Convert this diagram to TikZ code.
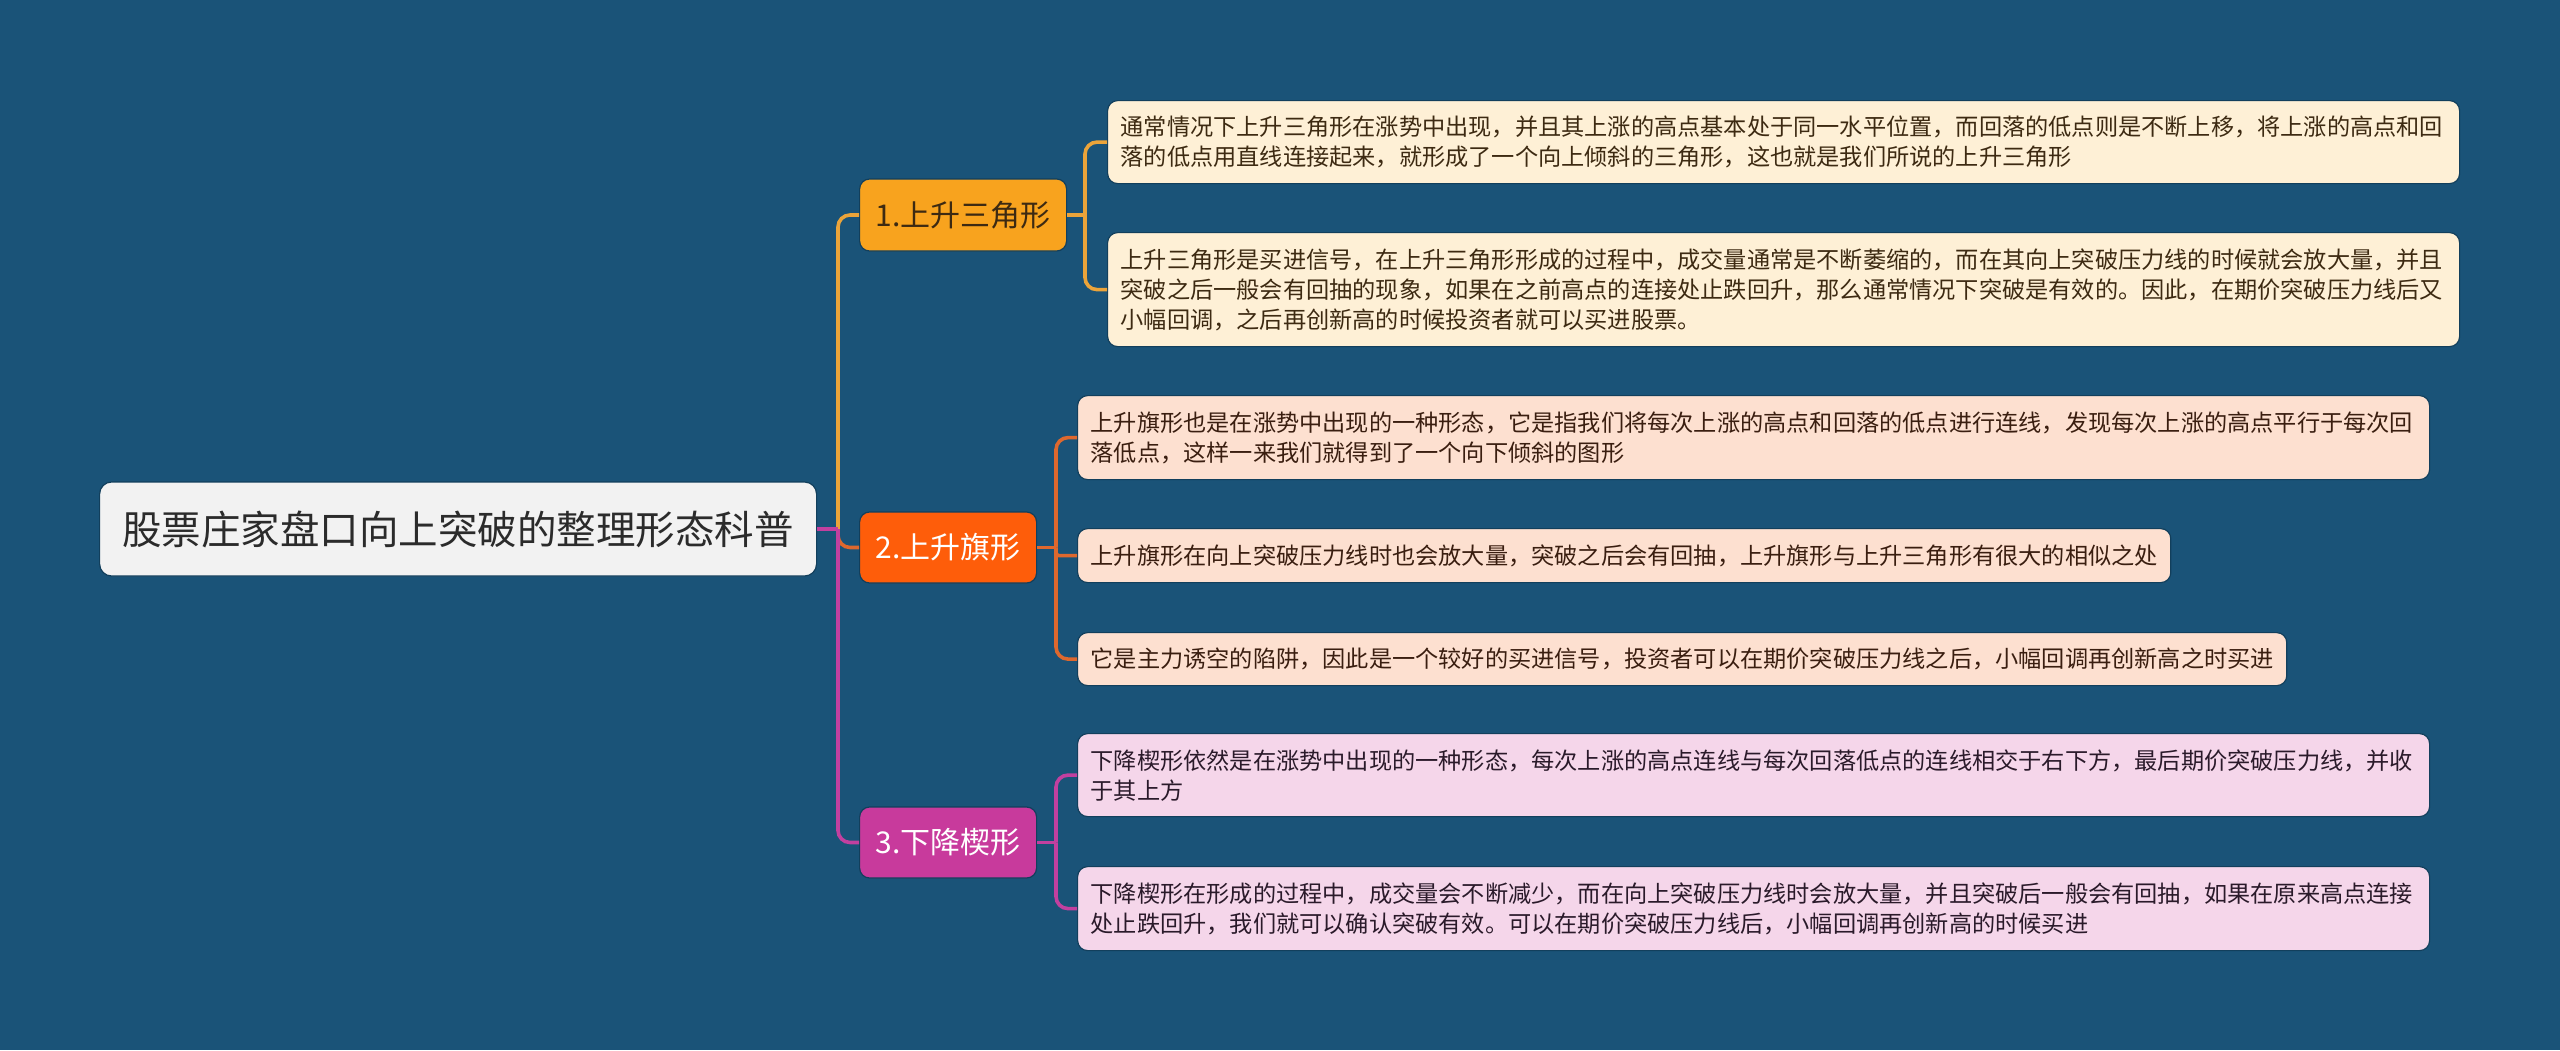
\documentclass[tikz,border=0pt]{standalone}
\usepackage{fontspec}
\newfontfamily\cjk{Noto Sans CJK SC}
\usetikzlibrary{calc}
\definecolor{bg}{HTML}{1A5378}
\definecolor{outl}{HTML}{123F5C}
\definecolor{rootfill}{HTML}{F2F2F2}
\definecolor{roottext}{HTML}{2B2B2B}
\definecolor{bfa}{HTML}{F8A31E}
\definecolor{bfb}{HTML}{FE5D0A}
\definecolor{bfc}{HTML}{C83A9C}
\definecolor{lna}{HTML}{EBA43A}
\definecolor{lnb}{HTML}{DE682E}
\definecolor{lnc}{HTML}{C2409F}
\definecolor{lfa}{HTML}{FEF0D6}
\definecolor{lfb}{HTML}{FDE0D0}
\definecolor{lfc}{HTML}{F5D6EA}
\definecolor{txa}{HTML}{3D2A12}
\definecolor{txb}{HTML}{3A1E10}
\definecolor{txc}{HTML}{2A1A2A}
\begin{document}
\begin{tikzpicture}[x=1pt,y=-1pt,
  box/.style={rounded corners=10pt, draw=outl, line width=1.2pt, inner ysep=0pt},
  rootbox/.style={box, rounded corners=12pt, fill=rootfill, text=roottext, anchor=west,
    minimum width=717pt, minimum height=94pt, inner xsep=0pt,
    font={\cjk\fontsize{39.5}{47}\selectfont}},
  branch/.style={box, anchor=west, minimum height=72pt, inner xsep=0pt,
    font={\cjk\fontsize{30}{36}\selectfont}},
  leaf/.style={box, anchor=north west, align=left, inner xsep=13pt,
    font={\cjk\fontsize{23.2}{30}\selectfont}},
  wide/.style={text width=1326pt},
  leafa/.style={leaf, fill=lfa, text=txa},
  leafb/.style={leaf, fill=lfb, text=txb},
  leafc/.style={leaf, fill=lfc, text=txc},
  conn/.style={line width=3.6pt, rounded corners=12pt},
  ca/.style={conn, draw=lna},
  cb/.style={conn, draw=lnb},
  cc/.style={conn, draw=lnc}
]
\useasboundingbox (0,0) rectangle (2560,1050);
\fill[bg] (0,0) rectangle (2560,1050);

% spine positions
\coordinate (s0) at (838,0);
\coordinate (s1) at (1085,0);
\coordinate (s2) at (1056,0);
\coordinate (s3) at (1056,0);

% root and branches
\node[rootbox] (root) at (99,529) {股票庄家盘口向上突破的整理形态科普};
\node[branch, fill=bfa, text=txa, minimum width=207pt] (b1) at (859,215) {1.上升三角形};
\node[branch, fill=bfb, text=white, minimum width=177pt, minimum height=71pt] (b2) at (859,547.5) {2.上升旗形};
\node[branch, fill=bfc, text=white, minimum width=177pt, minimum height=71pt] (b3) at (859,842.5) {3.下降楔形};

% leaves
\node[leafa, wide, minimum height=83pt] (l1a) at (1107,100)
 {通常情况下上升三角形在涨势中出现，并且其上涨的高点基本处于同一水平位置，而回落的低点则是不断上移，将上涨的高点和回\\落的低点用直线连接起来，就形成了一个向上倾斜的三角形，这也就是我们所说的上升三角形};
\node[leafa, wide, minimum height=114pt] (l1b) at (1107,232)
 {上升三角形是买进信号，在上升三角形形成的过程中，成交量通常是不断萎缩的，而在其向上突破压力线的时候就会放大量，并且\\突破之后一般会有回抽的现象，如果在之前高点的连接处止跌回升，那么通常情况下突破是有效的。因此，在期价突破压力线后又\\小幅回调，之后再创新高的时候投资者就可以买进股票。};
\node[leafb, wide, minimum height=84pt] (l2a) at (1077,395)
 {上升旗形也是在涨势中出现的一种形态，它是指我们将每次上涨的高点和回落的低点进行连线，发现每次上涨的高点平行于每次回\\落低点，这样一来我们就得到了一个向下倾斜的图形};
\node[leafb, minimum height=54pt] (l2b) at (1077,528)
 {上升旗形在向上突破压力线时也会放大量，突破之后会有回抽，上升旗形与上升三角形有很大的相似之处};
\node[leafb, minimum height=53pt] (l2c) at (1077,632)
 {它是主力诱空的陷阱，因此是一个较好的买进信号，投资者可以在期价突破压力线之后，小幅回调再创新高之时买进};
\node[leafc, wide, minimum height=83pt] (l3a) at (1077,733)
 {下降楔形依然是在涨势中出现的一种形态，每次上涨的高点连线与每次回落低点的连线相交于右下方，最后期价突破压力线，并收\\于其上方};
\node[leafc, wide, minimum height=84pt] (l3b) at (1077,866)
 {下降楔形在形成的过程中，成交量会不断减少，而在向上突破压力线时会放大量，并且突破后一般会有回抽，如果在原来高点连接\\处止跌回升，我们就可以确认突破有效。可以在期价突破压力线后，小幅回调再创新高的时候买进};

% root to branches
\draw[ca] (root.east -| s0) |- (b1.west);
\draw[cb] (root.east -| s0) |- (b2.west);
\draw[cc] (root.east -| s0) |- (b3.west);
\draw[cc] (root.east) -- (root.east -| s0);

% branch 1 to leaves
\draw[ca] (b1.east) -- (b1.east -| s1);
\draw[ca] (b1.east -| s1) |- (l1a.west);
\draw[ca] (b1.east -| s1) |- (l1b.west);

% branch 2 to leaves
\draw[cb] (b2.east) -- (b2.east -| s2);
\draw[cb] (b2.east -| s2) |- (l2a.west);
\draw[cb, rounded corners=3pt] (b2.east -| s2) |- (l2b.west);
\draw[cb] (b2.east -| s2) |- (l2c.west);

% branch 3 to leaves
\draw[cc] (b3.east) -- (b3.east -| s3);
\draw[cc] (b3.east -| s3) |- (l3a.west);
\draw[cc] (b3.east -| s3) |- (l3b.west);
\end{tikzpicture}
\end{document}
